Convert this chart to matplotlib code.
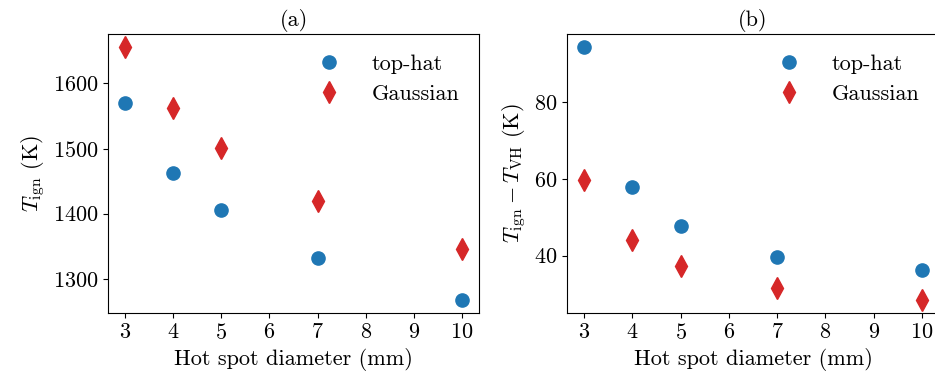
import matplotlib
matplotlib.use("Agg")
import matplotlib.pyplot as plt

plt.rcParams["font.family"] = "serif"
plt.rcParams["font.serif"] = ["cmr10", "DejaVu Serif"]
plt.rcParams["mathtext.fontset"] = "cm"
plt.rcParams["axes.formatter.use_mathtext"] = True
plt.rcParams["font.size"] = 16

# hot spot diameter (mm)
d = [3, 4, 5, 7, 10]

# (a) ignition temperature
tign_tophat = [1569.5, 1462, 1405, 1332, 1267]
tign_gauss = [1656.5, 1563, 1501, 1420, 1346.5]

# (b) difference to VH temperature
dT_tophat = [94.4, 58.0, 47.7, 39.6, 36.2]
dT_gauss = [59.8, 44.2, 37.4, 31.6, 28.4]

fig = plt.figure(figsize=(9.35, 3.82), dpi=100)
ax1 = fig.add_axes([108/935, 1-313/382, 371/935, 279/382])
ax2 = fig.add_axes([567/935, 1-313/382, 372/935, 279/382])

for ax, yt, yg in [(ax1, tign_tophat, tign_gauss), (ax2, dT_tophat, dT_gauss)]:
    ax.plot(d, yt, "o", color="tab:blue", ms=9.5, label="top-hat")
    ax.plot(d, yg, "d", color="tab:red", ms=11, label="Gaussian")
    ax.set_xticks(range(3, 11))
    ax.set_xlabel("Hot spot diameter (mm)")
    ax.legend(frameon=False, loc="upper right", handletextpad=0.9,
              borderaxespad=0.5, labelspacing=0.5)

ax1.set_yticks([1300, 1400, 1500, 1600])
ax1.set_ylabel(r"$T_{\mathrm{ign}}$ (K)")
ax1.set_title("(a)", fontsize=16)

ax2.set_yticks([40, 60, 80])
ax2.set_ylabel(r"$T_{\mathrm{ign}} - T_{\mathrm{VH}}$ (K)")
ax2.set_title("(b)", fontsize=16)

fig.savefig("out.png", dpi=100)
